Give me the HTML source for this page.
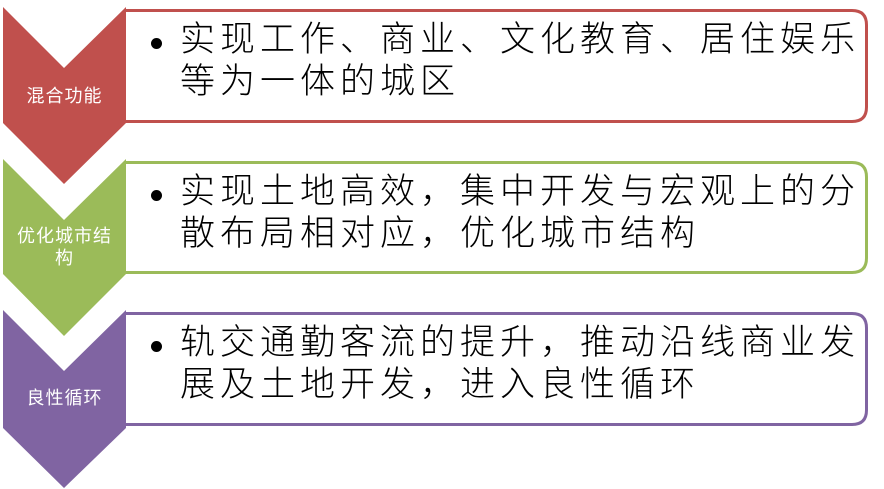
<!DOCTYPE html>
<html><head><meta charset="utf-8"><style>
body{margin:0;width:884px;height:489px;background:#fff;position:relative;overflow:hidden;font-family:"Liberation Sans","Noto Sans CJK SC",sans-serif}
.t{position:absolute;left:180px;font-size:35px;letter-spacing:5px;line-height:42px;color:#000;white-space:nowrap;font-weight:300}
.b{position:absolute;left:151px;width:11px;height:11px;border-radius:50%;background:#000}
.l{position:absolute;left:3px;width:123px;text-align:center;color:#fff;font-size:18px;line-height:22px;letter-spacing:1px}
</style></head><body>
<svg width="884" height="489" style="position:absolute;left:0;top:0">
<polygon points="3,7 64,68 126,7 126,123 64,184 3,123" fill="#c0504d"/>
<polygon points="3,159 64,220 126,159 126,274 64,336 3,274" fill="#9bbb59"/>
<polygon points="3,310 64,371 126,310 126,428 64,488 3,428" fill="#8064a2"/>
<path d="M126,10.5 H852 Q866.5,10.5 866.5,25 V107 Q866.5,121.5 852,121.5 H126" fill="#fff" stroke="#c0504d" stroke-width="3"/>
<path d="M126,162.5 H852 Q866.5,162.5 866.5,177 V258 Q866.5,272.5 852,272.5 H126" fill="#fff" stroke="#9bbb59" stroke-width="3"/>
<path d="M126,313.5 H852 Q866.5,313.5 866.5,328 V410 Q866.5,424.5 852,424.5 H126" fill="#fff" stroke="#8064a2" stroke-width="3"/>
</svg>
<div class="l" style="top:85px">混合功能</div>
<div class="l" style="top:225px">优化城市结<br>构</div>
<div class="l" style="top:387px">良性循环</div>
<div class="b" style="top:38px"></div>
<div class="t" style="top:19px">实现工作、商业、文化教育、居住娱乐<br>等为一体的城区</div>
<div class="b" style="top:190px"></div>
<div class="t" style="top:171px">实现土地高效，集中开发与宏观上的分<br>散布局相对应，优化城市结构</div>
<div class="b" style="top:341px"></div>
<div class="t" style="top:322px">轨交通勤客流的提升，推动沿线商业发<br>展及土地开发，进入良性循环</div>
</body></html>
